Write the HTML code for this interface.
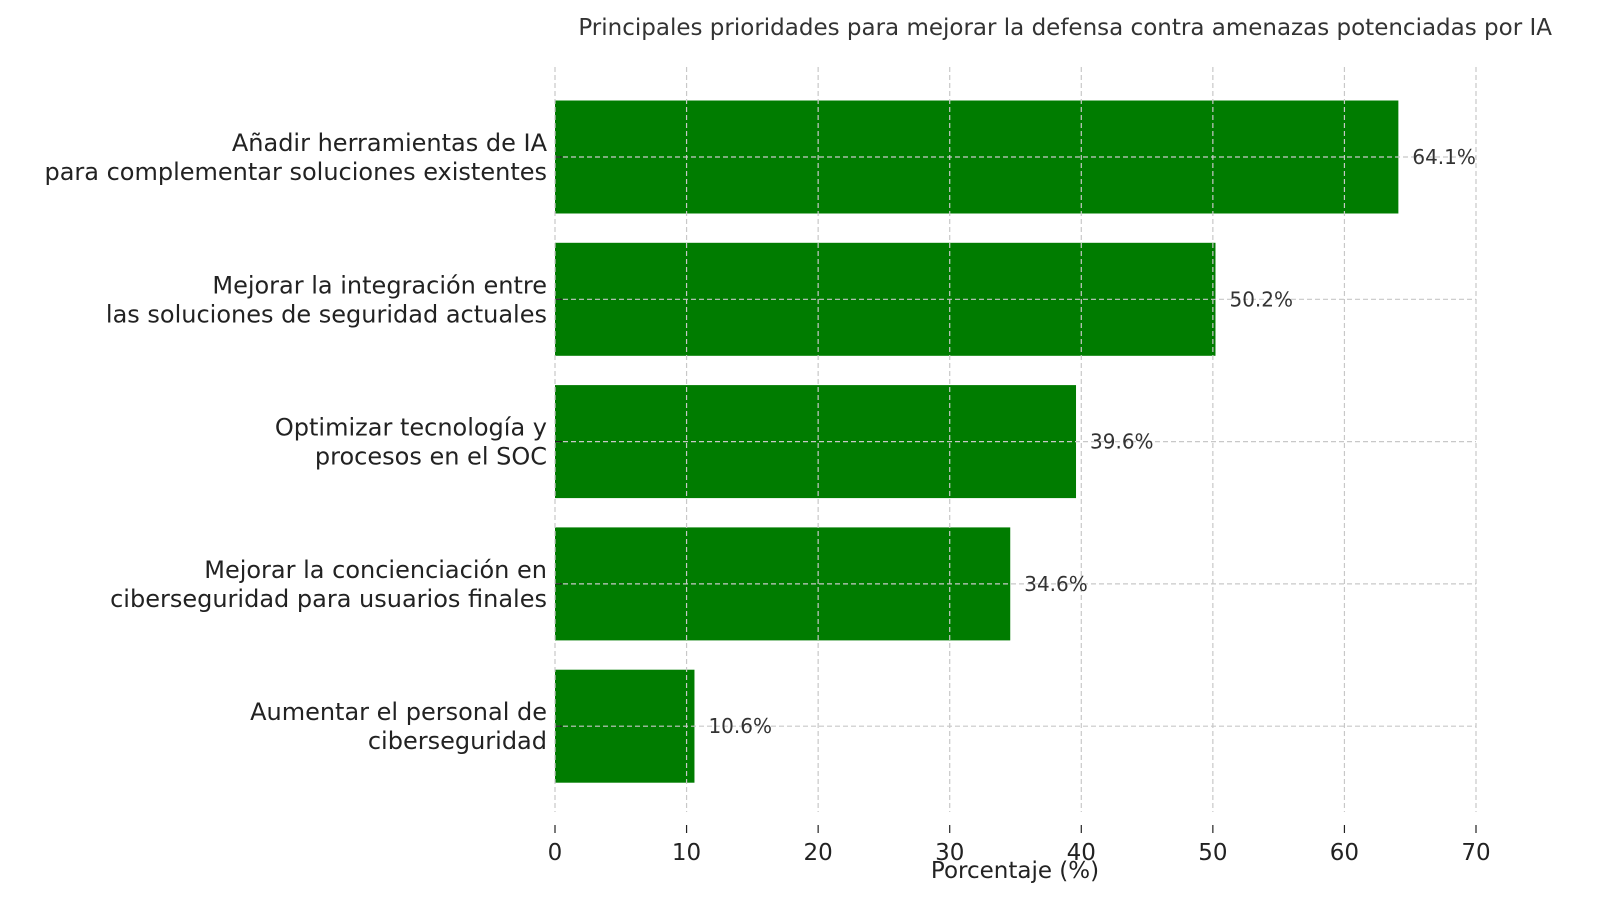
<!DOCTYPE html>
<html><head><meta charset="utf-8"><style>
html,body{margin:0;padding:0;background:#fff;overflow:hidden;width:1600px;height:917px;}
svg{display:block;}
svg text{font-family:"DejaVu Sans","Liberation Sans",sans-serif;}
</style></head><body>
<svg id="chart" width="1600" height="917" xmlns="http://www.w3.org/2000/svg">
<text x="1552" y="35" text-anchor="end" font-size="23" fill="#333">Principales prioridades para mejorar la defensa contra amenazas potenciadas por IA</text>
<g id="bars"></g><g id="grid"></g><g id="labels"></g>
<text x="1015" y="878" text-anchor="middle" font-size="23" fill="#222">Porcentaje (%)</text>
</svg>
<script>
const categories=[["Añadir herramientas de IA","para complementar soluciones existentes"],["Mejorar la integración entre","las soluciones de seguridad actuales"],["Optimizar tecnología y","procesos en el SOC"],["Mejorar la concienciación en","ciberseguridad para usuarios finales"],["Aumentar el personal de","ciberseguridad"]];
const values=[64.1,50.2,39.6,34.6,10.6];
const valueLabels=["64.1%","50.2%","39.6%","34.6%","10.6%"];
const ticks=[0,10,20,30,40,50,60,70];
const NS="http://www.w3.org/2000/svg";
const x0=555,x1=1476,xmax=70;
const xs=v=>x0+(x1-x0)*v/xmax;
const yc=i=>157+i*142.3;
const bh=113;
function mk(t,a,p){const e=document.createElementNS(NS,t);for(const k in a)e.setAttribute(k,a[k]);p.appendChild(e);return e;}
const bars=document.getElementById('bars'),grid=document.getElementById('grid'),labels=document.getElementById('labels');
values.forEach((v,i)=>{
 const r=mk('rect',{x:x0,y:yc(i)-bh/2,width:xs(v)-x0,height:bh,fill:'#007c00'},bars);
 
 
 const g=mk('line',{x1:x0,x2:x1,y1:yc(i),y2:yc(i),stroke:'#c8c8c8','stroke-dasharray':'5,3','stroke-width':1.2},grid);
 
 
 const tk=mk('line',{x1:x0,x2:x0+7,y1:yc(i),y2:yc(i),stroke:'#222','stroke-width':1.2},grid);
 
 
 const vl=mk('text',{x:xs(v)+14,y:yc(i)+7,'font-size':20,fill:'#333'},labels);
 vl.textContent=valueLabels[i];
 
 
 categories[i].forEach((ln,j)=>{
  const t=mk('text',{x:547,y:yc(i)-14+j*29+8,'text-anchor':'end','font-size':24,fill:'#222'},labels);
  t.textContent=ln;
  
  
 });
});
ticks.forEach(t=>{
 const g=mk('line',{x1:xs(t),x2:xs(t),y1:67,y2:812,stroke:'#c8c8c8','stroke-dasharray':'5,3','stroke-width':1.2},grid);
 
 
 const tk=mk('line',{x1:xs(t),x2:xs(t),y1:825,y2:833,stroke:'#222','stroke-width':1.2},grid);
 
 
 const tl=mk('text',{x:xs(t),y:860,'text-anchor':'middle','font-size':23,fill:'#222'},labels);
 tl.textContent=t;
 
 
});
</script>
</body></html>
